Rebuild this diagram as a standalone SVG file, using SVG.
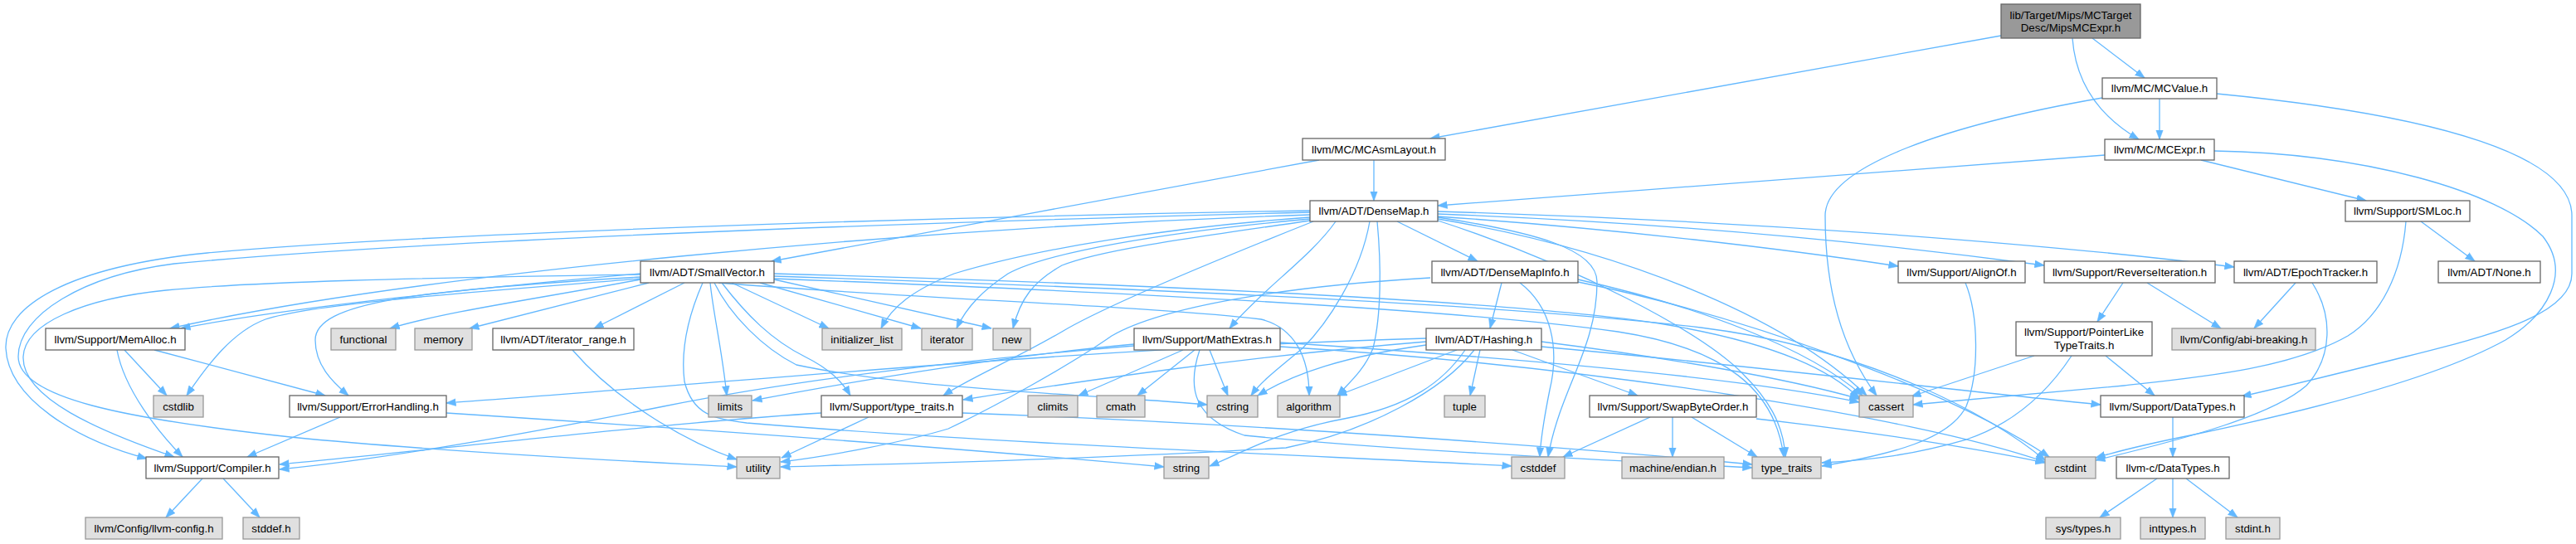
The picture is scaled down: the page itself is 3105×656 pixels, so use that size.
<svg xmlns="http://www.w3.org/2000/svg" width="3105" height="656" viewBox="0 0 3105 656">
<style>
.nd rect{fill:#ffffff;stroke:#666666;stroke-width:1.3}
.gy rect{fill:#e0e0e0;stroke:#999999;stroke-width:1.3}
.rt rect{fill:#999999;stroke:#666666;stroke-width:1.3}
text{font-family:"Liberation Sans",Arial,Helvetica,sans-serif;font-size:13.3px;fill:#000000;text-anchor:middle}
#edges path{fill:none;stroke:#63b8ff;stroke-width:1.3;marker-end:url(#ah)}
</style>
<defs>
<marker id="ah" markerUnits="userSpaceOnUse" viewBox="0 0 12 10" markerWidth="12" markerHeight="10" refX="11.5" refY="5" orient="auto">
<path d="M0,0.6 L12,5 L0,9.4 z" fill="#63b8ff" stroke="#63b8ff" stroke-width="0.5"/>
</marker>
</defs>
<rect x="0" y="0" width="3105" height="656" fill="#ffffff"/>
<g id="edges">
<path d="M2412,43 L1724,167"/>
<path d="M2498,46 C2502,100 2530,140 2578,168"/>
<path d="M2522,46 L2585,94"/>
<path d="M2603,119 L2603,168"/>
<path d="M2534,118 C2350,150 2200,200 2200,260 C2200,350 2220,420 2262,477"/>
<path d="M2672,113 C2950,140 3100,190 3100,260 L3100,330 C3100,380 3000,405 2900,430 C2820,450 2760,465 2702,478"/>
<path d="M2537,187 L1733,248"/>
<path d="M2653,193 L2852,242"/>
<path d="M2669,182 C2850,185 3010,230 3065,285 C3100,330 3070,380 3020,410 C2930,460 2760,500 2640,525 C2590,535 2550,545 2526,552"/>
<path d="M1656,193 L1656,242"/>
<path d="M1590,193 L930,315"/>
<path d="M2918,267 L2983,315"/>
<path d="M2900,267 C2895,330 2870,380 2830,405 C2760,445 2650,455 2560,465 C2450,475 2360,483 2306,488"/>
<path d="M2767,341 L2717,396"/>
<path d="M2787,341 C2812,380 2812,430 2780,465 C2740,500 2640,528 2526,555"/>
<path d="M2559,341 L2528,388"/>
<path d="M2588,341 L2677,396"/>
<path d="M2452,429 L2304,478"/>
<path d="M2497,429 C2470,470 2430,510 2370,530 C2300,550 2250,555 2196,558"/>
<path d="M2538,429 L2597,477"/>
<path d="M2369,341 C2385,380 2386,450 2370,490 C2350,530 2280,548 2196,562"/>
<path d="M2619,503 L2619,551"/>
<path d="M2600,577 L2531,624"/>
<path d="M2619,577 L2619,624"/>
<path d="M2635,577 L2697,624"/>
<path d="M1684,267 L1781,315"/>
<path d="M1733,255 C2100,266 2450,292 2693,322"/>
<path d="M1733,258 C2050,270 2300,298 2464,320"/>
<path d="M1733,261 C1950,276 2150,300 2288,321"/>
<path d="M1610,267 C1580,310 1520,350 1482,396"/>
<path d="M1579,259 C1100,275 500,330 205,396"/>
<path d="M1579,254 C1100,262 500,282 250,305 C80,322 5,370 7,420 C10,480 90,530 177,553"/>
<path d="M1579,256 C1100,268 500,290 210,318 C100,332 22,380 22,430 C22,480 150,505 350,527 C550,547 800,558 888,563"/>
<path d="M1583,267 C1450,320 1330,370 1280,400 C1220,435 1170,455 1137,477"/>
<path d="M1660,267 C1665,320 1665,380 1655,420 C1645,445 1628,460 1612,477"/>
<path d="M1651,267 C1640,330 1600,390 1570,420 C1540,445 1520,460 1508,477"/>
<path d="M1733,264 C1950,300 2150,380 2250,477"/>
<path d="M1733,262 C1850,280 1925,300 1925,340 C1925,420 1880,470 1866,551"/>
<path d="M1579,262 C1400,275 1250,300 1150,330 C1100,350 1075,370 1062,396"/>
<path d="M1579,264 C1400,280 1260,305 1215,330 C1185,350 1165,370 1153,396"/>
<path d="M1579,266 C1450,285 1330,300 1280,320 C1245,340 1230,360 1221,396"/>
<path d="M1733,266 C1900,320 2050,400 2100,450 C2130,480 2150,510 2152,551"/>
<path d="M825,341 L716,396"/>
<path d="M782,341 L566,396"/>
<path d="M772,337 C650,360 540,375 470,396"/>
<path d="M772,330 C600,345 350,370 218,396"/>
<path d="M772,334 C500,350 380,365 380,410 C380,440 400,460 420,477"/>
<path d="M772,331 C500,335 300,340 200,350 C100,360 30,390 28,430 C26,480 120,520 210,551"/>
<path d="M772,336 C600,350 380,365 320,385 C280,400 250,440 225,477"/>
<path d="M856,341 C860,380 870,420 876,477"/>
<path d="M847,341 C830,380 820,420 825,460 C835,500 860,505 900,510 C1200,535 1600,550 1822,562"/>
<path d="M882,341 L999,396"/>
<path d="M916,341 L1110,396"/>
<path d="M933,337 L1195,396"/>
<path d="M870,341 C900,380 930,410 970,430 C1000,445 1015,460 1025,477"/>
<path d="M861,341 C880,380 920,420 960,440 C1100,470 1350,478 1455,488"/>
<path d="M866,341 C1100,360 1400,370 1520,385 C1560,395 1578,430 1578,477"/>
<path d="M933,330 C1300,340 1800,360 2000,390 C2150,415 2210,450 2241,480"/>
<path d="M933,333 C1300,345 1800,365 2050,395 C2250,420 2400,500 2465,555"/>
<path d="M933,336 C1300,350 1750,372 1950,400 C2080,420 2140,470 2150,551"/>
<path d="M150,422 L201,477"/>
<path d="M141,422 C150,470 190,520 220,551"/>
<path d="M186,422 L392,477"/>
<path d="M410,503 L298,551"/>
<path d="M538,498 C800,515 1150,540 1403,563"/>
<path d="M244,577 L200,624"/>
<path d="M269,577 L313,624"/>
<path d="M690,422 C740,480 820,530 888,554"/>
<path d="M990,498 C800,510 500,545 337,560"/>
<path d="M1047,503 L942,552"/>
<path d="M1160,498 C1500,510 1900,540 2112,560"/>
<path d="M1426,422 L1300,477"/>
<path d="M1440,422 L1371,477"/>
<path d="M1458,422 L1480,477"/>
<path d="M1367,415 C1200,430 1000,465 907,483"/>
<path d="M1367,417 C1150,435 950,460 800,490 C600,530 450,555 337,566"/>
<path d="M1543,413 C1800,430 2100,455 2241,485"/>
<path d="M1543,418 C1900,440 2300,500 2465,557"/>
<path d="M1446,422 C1430,470 1440,505 1500,525 C1700,545 1950,555 2112,564"/>
<path d="M1784,422 L1772,477"/>
<path d="M1823,422 L1974,477"/>
<path d="M1756,422 L1612,477"/>
<path d="M1719,412 C1500,430 1300,460 1161,482"/>
<path d="M1719,408 C1300,420 900,460 538,486"/>
<path d="M1766,422 C1740,460 1700,490 1620,505 C1540,520 1500,545 1458,562"/>
<path d="M1777,422 C1740,470 1650,520 1550,540 C1300,555 1050,560 941,563"/>
<path d="M1858,412 C2000,430 2150,455 2241,481"/>
<path d="M1719,416 C1620,430 1560,450 1516,477"/>
<path d="M1858,418 C2100,440 2350,470 2532,488"/>
<path d="M1810,341 L1796,396"/>
<path d="M1832,341 C1870,370 1880,420 1868,470 C1860,510 1857,530 1856,551"/>
<path d="M1724,335 C1550,345 1400,370 1340,405 C1290,440 1200,490 1143,517 C1090,533 1000,550 941,557"/>
<path d="M1902,337 C2050,370 2180,420 2245,477"/>
<path d="M1902,340 C2100,380 2350,470 2470,551"/>
<path d="M1989,503 L1884,551"/>
<path d="M2016,503 L2016,551"/>
<path d="M2117,505 C2250,520 2380,540 2465,558"/>
<path d="M2039,503 L2118,551"/>
</g>
<g id="n0" class="rt"><rect x="2412" y="5" width="168" height="41"/><text x="2496" y="23">lib/Target/Mips/MCTarget</text><text x="2496" y="38">Desc/MipsMCExpr.h</text></g>
<g id="n1" class="nd"><rect x="2534" y="94" width="138" height="25"/><text x="2603" y="111">llvm/MC/MCValue.h</text></g>
<g id="n2" class="nd"><rect x="2537" y="168" width="132" height="25"/><text x="2603" y="185">llvm/MC/MCExpr.h</text></g>
<g id="n3" class="nd"><rect x="1570" y="167" width="172" height="26"/><text x="1656" y="184.5">llvm/MC/MCAsmLayout.h</text></g>
<g id="n4" class="nd"><rect x="1579" y="242" width="154" height="25"/><text x="1656" y="259">llvm/ADT/DenseMap.h</text></g>
<g id="n5" class="nd"><rect x="2827" y="242" width="150" height="25"/><text x="2902" y="259">llvm/Support/SMLoc.h</text></g>
<g id="n6" class="nd"><rect x="772" y="315" width="161" height="26"/><text x="852.5" y="332.5">llvm/ADT/SmallVector.h</text></g>
<g id="n7" class="nd"><rect x="1726" y="315" width="176" height="26"/><text x="1814" y="332.5">llvm/ADT/DenseMapInfo.h</text></g>
<g id="n8" class="nd"><rect x="2288" y="315" width="153" height="26"/><text x="2364.5" y="332.5">llvm/Support/AlignOf.h</text></g>
<g id="n9" class="nd"><rect x="2464" y="315" width="206" height="26"/><text x="2567" y="332.5">llvm/Support/ReverseIteration.h</text></g>
<g id="n10" class="nd"><rect x="2693" y="315" width="172" height="26"/><text x="2779" y="332.5">llvm/ADT/EpochTracker.h</text></g>
<g id="n11" class="nd"><rect x="2939" y="315" width="123" height="26"/><text x="3000.5" y="332.5">llvm/ADT/None.h</text></g>
<g id="n12" class="nd"><rect x="55" y="396" width="168" height="26"/><text x="139" y="413.5">llvm/Support/MemAlloc.h</text></g>
<g id="n13" class="gy"><rect x="399" y="396" width="78" height="26"/><text x="438" y="413.5">functional</text></g>
<g id="n14" class="gy"><rect x="500" y="396" width="69" height="26"/><text x="534.5" y="413.5">memory</text></g>
<g id="n15" class="nd"><rect x="594" y="396" width="170" height="26"/><text x="679" y="413.5">llvm/ADT/iterator_range.h</text></g>
<g id="n16" class="gy"><rect x="991" y="396" width="96" height="26"/><text x="1039" y="413.5">initializer_list</text></g>
<g id="n17" class="gy"><rect x="1111" y="396" width="61" height="26"/><text x="1141.5" y="413.5">iterator</text></g>
<g id="n18" class="gy"><rect x="1197" y="396" width="45" height="26"/><text x="1219.5" y="413.5">new</text></g>
<g id="n19" class="nd"><rect x="1367" y="396" width="176" height="26"/><text x="1455" y="413.5">llvm/Support/MathExtras.h</text></g>
<g id="n20" class="nd"><rect x="1719" y="396" width="139" height="26"/><text x="1788.5" y="413.5">llvm/ADT/Hashing.h</text></g>
<g id="n21" class="nd"><rect x="2430" y="388" width="164" height="41"/><text x="2512" y="405">llvm/Support/PointerLike</text><text x="2512" y="420.5">TypeTraits.h</text></g>
<g id="n22" class="gy"><rect x="2618" y="396" width="173" height="26"/><text x="2704.5" y="413.5">llvm/Config/abi-breaking.h</text></g>
<g id="n23" class="gy"><rect x="185" y="477" width="60" height="26"/><text x="215" y="494.5">cstdlib</text></g>
<g id="n24" class="nd"><rect x="349" y="477" width="189" height="26"/><text x="443.5" y="494.5">llvm/Support/ErrorHandling.h</text></g>
<g id="n25" class="gy"><rect x="854" y="477" width="52" height="26"/><text x="880" y="494.5">limits</text></g>
<g id="n26" class="nd"><rect x="990" y="477" width="170" height="26"/><text x="1075" y="494.5">llvm/Support/type_traits.h</text></g>
<g id="n27" class="gy"><rect x="1239" y="477" width="60" height="26"/><text x="1269" y="494.5">climits</text></g>
<g id="n28" class="gy"><rect x="1322" y="477" width="58" height="26"/><text x="1351" y="494.5">cmath</text></g>
<g id="n29" class="gy"><rect x="1455" y="477" width="61" height="26"/><text x="1485.5" y="494.5">cstring</text></g>
<g id="n30" class="gy"><rect x="1540" y="477" width="75" height="26"/><text x="1577.5" y="494.5">algorithm</text></g>
<g id="n31" class="gy"><rect x="1741" y="477" width="49" height="26"/><text x="1765.5" y="494.5">tuple</text></g>
<g id="n32" class="nd"><rect x="1916" y="477" width="201" height="26"/><text x="2016.5" y="494.5">llvm/Support/SwapByteOrder.h</text></g>
<g id="n33" class="gy"><rect x="2241" y="477" width="65" height="26"/><text x="2273.5" y="494.5">cassert</text></g>
<g id="n34" class="nd"><rect x="2532" y="477" width="173" height="26"/><text x="2618.5" y="494.5">llvm/Support/DataTypes.h</text></g>
<g id="n35" class="nd"><rect x="176" y="551" width="160" height="26"/><text x="256" y="568.5">llvm/Support/Compiler.h</text></g>
<g id="n36" class="gy"><rect x="888" y="551" width="52" height="26"/><text x="914" y="568.5">utility</text></g>
<g id="n37" class="gy"><rect x="1403" y="551" width="54" height="26"/><text x="1430" y="568.5">string</text></g>
<g id="n38" class="gy"><rect x="1822" y="551" width="64" height="26"/><text x="1854" y="568.5">cstddef</text></g>
<g id="n39" class="gy"><rect x="1955" y="551" width="123" height="26"/><text x="2016.5" y="568.5">machine/endian.h</text></g>
<g id="n40" class="gy"><rect x="2112" y="551" width="83" height="26"/><text x="2153.5" y="568.5">type_traits</text></g>
<g id="n41" class="gy"><rect x="2465" y="551" width="61" height="26"/><text x="2495.5" y="568.5">cstdint</text></g>
<g id="n42" class="nd"><rect x="2551" y="551" width="136" height="26"/><text x="2619" y="568.5">llvm-c/DataTypes.h</text></g>
<g id="n43" class="gy"><rect x="103" y="624" width="165" height="26"/><text x="185.5" y="641.5">llvm/Config/llvm-config.h</text></g>
<g id="n44" class="gy"><rect x="293" y="624" width="68" height="26"/><text x="327" y="641.5">stddef.h</text></g>
<g id="n45" class="gy"><rect x="2466" y="624" width="90" height="26"/><text x="2511" y="641.5">sys/types.h</text></g>
<g id="n46" class="gy"><rect x="2580" y="624" width="78" height="26"/><text x="2619" y="641.5">inttypes.h</text></g>
<g id="n47" class="gy"><rect x="2683" y="624" width="65" height="26"/><text x="2715.5" y="641.5">stdint.h</text></g>
</svg>
